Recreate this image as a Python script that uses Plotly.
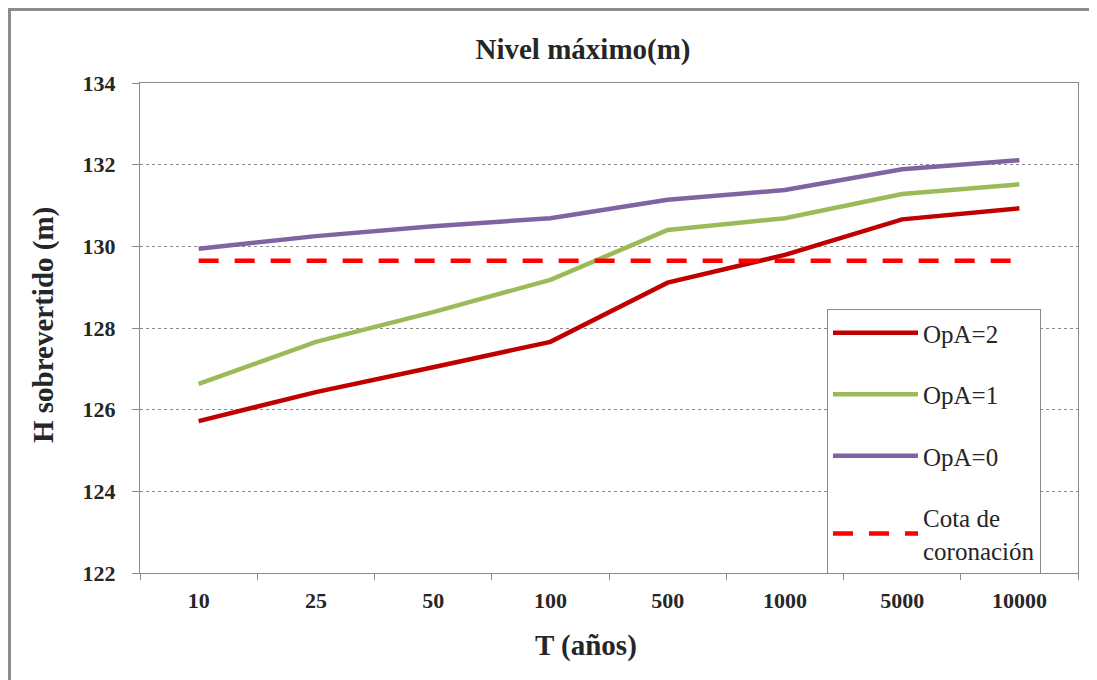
import plotly.graph_objects as go

categories = ["10", "25", "50", "100", "500", "1000", "5000", "10000"]
opa2 = [125.72, 126.43, 127.04, 127.66, 129.11, 129.79, 130.66, 130.93]
opa1 = [126.63, 127.66, 128.39, 129.18, 130.40, 130.69, 131.28, 131.52]
opa0 = [129.94, 130.25, 130.49, 130.69, 131.14, 131.38, 131.89, 132.11]
cota = [129.65] * len(categories)

series_names = ["OpA=2", "OpA=1", "OpA=0", "Cota de<br>coronación"]
colors = ["#C00000", "#9BBB59", "#8064A2", "#FF0000"]

FONT = "Liberation Serif, serif"
TXT = "#262626"

# page offset (browser body margin)
OFF = 8
W, H = 1097 - OFF, 680 - OFF
# plot area in reference pixels: x 140..1078, y 83..573
PL, PR, PT, PB = 140, 1078, 83, 573
L, T = PL - OFF, PT - OFF
R, B = W - (PR - OFF), H - (PB - OFF)
pw, ph = PR - PL, PB - PT


def px_x(x):
    return (x - PL) / pw


def px_y(y):
    return (PB - y) / ph


fig = go.Figure()
for i, (name, vals) in enumerate(zip(series_names, [opa2, opa1, opa0, cota])):
    fig.add_trace(go.Scatter(
        x=categories, y=vals, mode="lines", name=name,
        legendgroup=f"g{i}",
        line=dict(color=colors[i], width=4.5,
                  dash="20px,16px" if i == 3 else "solid"),
    ))

fig.update_layout(
    width=W, height=H,
    margin=dict(l=L, r=R, t=T, b=B, autoexpand=False),
    paper_bgcolor="white", plot_bgcolor="white",
    font=dict(family=FONT, color=TXT),
    title=dict(text="<b>Nivel máximo(m)</b>", font=dict(size=29, family=FONT, color=TXT),
               xref="paper", x=px_x(583), xanchor="center",
               yref="container", y=1 - (49 - OFF) / H, yanchor="middle"),
    showlegend=True,
    legend=dict(x=px_x(827), y=px_y(309), xanchor="left", yanchor="top",
                bgcolor="white", bordercolor="#8a8a8a", borderwidth=1,
                font=dict(size=25, family=FONT, color=TXT),
                itemwidth=85, tracegroupgap=26, traceorder="grouped"),
    xaxis=dict(type="category", range=[-0.5, 7.5], showgrid=False,
               showline=True, linecolor="#8a8a8a", linewidth=1, mirror=True,
               ticks="outside", tickson="boundaries", ticklen=6, tickcolor="#8a8a8a",
               tickfont=dict(size=22, family=FONT, color=TXT),
               ticklabelstandoff=8),
    yaxis=dict(range=[122, 134], dtick=2, tick0=122,
               showgrid=True, gridcolor="#8a8a8a", griddash="3px,3px", gridwidth=1,
               zeroline=False,
               showline=True, linecolor="#8a8a8a", linewidth=1, mirror=True,
               ticks="outside", ticklen=7, tickcolor="#8a8a8a",
               tickfont=dict(size=22, family=FONT, color=TXT),
               ticklabelstandoff=12),
)

# tick labels bold like original
fig.update_xaxes(tickprefix="<b>", ticksuffix="</b>")
fig.update_yaxes(tickprefix="<b>", ticksuffix="</b>")

fig.add_annotation(text="<b>T (años)</b>", xref="paper", yref="paper",
                   x=px_x(586), y=px_y(645), xanchor="center", yanchor="middle",
                   showarrow=False, font=dict(size=29, family=FONT, color=TXT))
fig.add_annotation(text="<b>H sobrevertido (m)</b>", xref="paper", yref="paper",
                   x=px_x(43), y=px_y(325), xanchor="center", yanchor="middle",
                   textangle=-90, showarrow=False,
                   font=dict(size=29, family=FONT, color=TXT))

# outer chart frame (left and top edges visible)
fig.add_shape(type="line", xref="paper", yref="paper",
              x0=px_x(OFF + 1.5), x1=px_x(OFF + 1.5), y0=px_y(OFF + 0.5), y1=px_y(720),
              line=dict(color="#8c8c8c", width=3))
fig.add_shape(type="line", xref="paper", yref="paper",
              x0=px_x(OFF), x1=px_x(1120), y0=px_y(OFF + 1.5), y1=px_y(OFF + 1.5),
              line=dict(color="#8c8c8c", width=3))

fig.write_html("out.html")
